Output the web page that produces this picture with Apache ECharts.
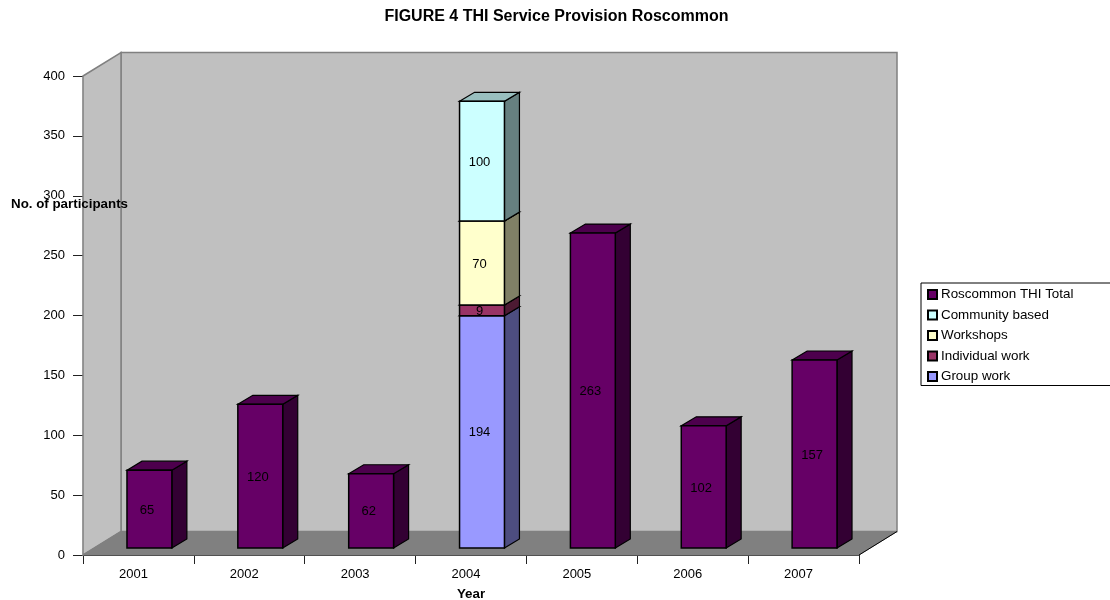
<!DOCTYPE html>
<html><head><meta charset="utf-8">
<style>html,body{margin:0;padding:0;background:#fff}#c{width:1110px;height:600px}</style>
<script src="https://cdn.jsdelivr.net/npm/echarts@6/dist/echarts.min.js"></script>
</head><body><div id="c"></div>
<script>
const categories = ['2001','2002','2003','2004','2005','2006','2007'];
const groupWork = [null,null,null,194,null,null,null];
const individualWork = [null,null,null,9,null,null,null];
const workshops = [null,null,null,70,null,null,null];
const communityBased = [null,null,null,100,null,null,null];
const thiTotal = [65,120,62,null,263,102,157];
const legendOrder = ['Roscommon THI Total','Community based','Workshops','Individual work','Group work'];
const yTicks = {min:0,max:400,interval:50};

const FONT = '"Liberation Sans", Arial, sans-serif';
const WALL = {dx:38, dy:-23.5};
const BAR = {widthRatio:0.405, ox:11, oy:-7, dx:15, dy:-9, labelDx:-2.5, labelDy:1};

function shade(hex,f){
  const n=parseInt(hex.slice(1),16);
  const c=[(n>>16)&255,(n>>8)&255,n&255].map(v=>Math.round(v*f));
  return 'rgb('+c.join(',')+')';
}
function poly(points,fill,stroke,lw,z){
  return {type:'polygon',shape:{points},style:{fill,stroke,lineWidth:lw,lineJoin:'miter'},z2:z||0};
}
function barRender(color){
  return function(params,api){
    const i=api.value(0), v=api.value(1), b=api.value(2);
    const p0=api.coord([i,b]), p1=api.coord([i,b+v]);
    const w=api.size([1,0])[0]*BAR.widthRatio;
    const l=p0[0]-w/2+BAR.ox, r=l+w, bot=p0[1]+BAR.oy, top=p1[1]+BAR.oy;
    const d=BAR.dx, e=BAR.dy;
    return {type:'group',children:[
      poly([[r,bot],[r+d,bot+e],[r+d,top+e],[r,top]],shade(color,0.5),'#000',1.2),
      poly([[l,top],[l+d,top+e],[r+d,top+e],[r,top]],shade(color,0.75),'#000',1.2),
      poly([[l,bot],[r,bot],[r,top],[l,top]],color,'#000',1.5),
      {type:'text',z2:5,style:{text:String(v),x:(l+r)/2+BAR.labelDx,y:(top+bot)/2+BAR.labelDy,align:'center',verticalAlign:'middle',
        fill:'#000',font:'13px '+FONT}}
    ]};
  };
}
function stackData(values,below){
  const out=[];
  values.forEach((v,i)=>{
    if(v==null)return;
    const base=below.reduce((s,a)=>s+(a[i]||0),0);
    out.push([i,v,base]);
  });
  return out;
}
function barSeries(name,color,values,below){
  return {type:'custom',name,itemStyle:{color,borderColor:'#000',borderWidth:1},
    renderItem:barRender(color),data:stackData(values,below),encode:{x:0,y:1},silent:true,z:3};
}
function wallRender(params,api){
  const a=api.coord([0,0]), t=api.coord([0,yTicks.max]);
  const band=api.size([1,0])[0];
  const x0=a[0]-band/2, x1=x0+band*categories.length, y0=a[1], y1=t[1];
  const dx=WALL.dx, dy=WALL.dy, g='#808080';
  return {type:'group',children:[
    poly([[x0+dx,y1+dy],[x1+dx,y1+dy],[x1+dx,y0+dy],[x0+dx,y0+dy]],'#c0c0c0',g,1.5),
    poly([[x0,y1],[x0+dx,y1+dy],[x0+dx,y0+dy],[x0,y0]],'#c0c0c0',g,1.5),
    poly([[x0,y0],[x0+dx,y0+dy],[x1+dx,y0+dy],[x1,y0]],'#808080',g,1),
    {type:'polyline',shape:{points:[[x1,y0],[x1+dx,y0+dy]]},style:{stroke:'#000',lineWidth:1,fill:null}}
  ]};
}
const chart=echarts.init(document.getElementById('c'),null,{renderer:'canvas'});
chart.setOption({
  animation:false,
  backgroundColor:'#fff',
  textStyle:{fontFamily:FONT},
  title:{text:'FIGURE 4 THI Service Provision Roscommon',left:551.5,top:4,textAlign:'center',
    textStyle:{fontFamily:FONT,fontWeight:'bold',fontSize:16,color:'#000'}},
  grid:{left:83,top:76,width:776,height:479,outerBoundsMode:'none'},
  xAxis:{type:'category',data:categories,boundaryGap:true,
    name:'Year',nameLocation:'middle',nameGap:33,
    nameTextStyle:{fontFamily:FONT,fontWeight:'bold',fontSize:13.33,color:'#000'},
    axisLine:{lineStyle:{color:'#222',width:1.2}},
    axisTick:{show:true,alignWithLabel:false,length:9,lineStyle:{color:'#222'}},
    axisLabel:{color:'#000',fontSize:13,fontFamily:FONT,margin:13,padding:[0,10,0,0],interval:0},
    splitLine:{show:false}},
  yAxis:{type:'value',min:yTicks.min,max:yTicks.max,interval:yTicks.interval,
    axisLine:{show:true,lineStyle:{color:'#222',width:1.2}},
    axisTick:{show:true,length:10,lineStyle:{color:'#222'}},
    axisLabel:{color:'#000',fontSize:13,fontFamily:FONT,margin:18},
    splitLine:{show:false}},
  legend:{data:legendOrder,orient:'vertical',left:921,top:283,
    backgroundColor:'#fff',borderColor:'#000',borderWidth:1,padding:[5,60,2.5,6],
    icon:'rect',itemWidth:9,itemHeight:9,itemGap:7.5,selectedMode:false,
    textStyle:{fontFamily:FONT,fontSize:13.4,color:'#000',padding:[0,0,0,-1]}},
  graphic:[{type:'text',left:11,top:198,style:{text:'No. of participants',
    font:'bold 13.33px '+FONT,fill:'#000'},z:10}],
  series:[
    {type:'custom',name:'walls',renderItem:wallRender,data:[[0,0]],encode:{x:0,y:1},silent:true,z:1},
    barSeries('Group work','#9999ff',groupWork,[]),
    barSeries('Individual work','#993366',individualWork,[groupWork]),
    barSeries('Workshops','#ffffcc',workshops,[groupWork,individualWork]),
    barSeries('Community based','#ccffff',communityBased,[groupWork,individualWork,workshops]),
    barSeries('Roscommon THI Total','#660066',thiTotal,[])
  ]
});
</script></body></html>
